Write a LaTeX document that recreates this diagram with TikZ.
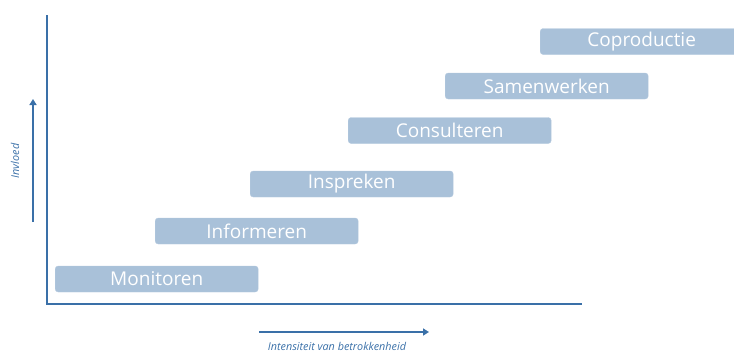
\documentclass[tikz,border=0pt]{standalone}
\usepackage{fontspec}
\setmainfont{Open Sans}
\usetikzlibrary{arrows.meta}
\definecolor{axisblue}{HTML}{3A70A8}
\definecolor{stepfill}{HTML}{A9C1D9}

\begin{document}
\begin{tikzpicture}[x=1pt,y=-1pt]
\tikzset{stage/.style={fill=stepfill,draw=stepfill!85!white,rounded corners=3pt,minimum width=203pt,minimum height=26pt,inner sep=0pt,text=white,font=\fontsize{19}{22}\selectfont,anchor=west},
axisline/.style={axisblue,line width=2pt},
axisarrow/.style={axisblue,line width=1.8pt,-{Triangle[length=6pt,width=7pt]}},
axislabel/.style={axisblue,font=\fontsize{10.8}{12}\selectfont\itshape,inner sep=0pt}}
\useasboundingbox (0,0) rectangle (734,354);
\clip (0,0) rectangle (734,354);
% axes
\coordinate (top) at (47,15);
\coordinate (origin) at (47,304);
\coordinate (right) at (582,304);
\draw [axisline] (top) -- (origin) -- (right);
% stages
\node [stage] (monitoren) at (55,279) {Monitoren};
\node [stage] (informeren) at (155,231) {Informeren};
\node [stage] (inspreken) at (250,184) {Inspreken};
\node [stage] (consulteren) at (348,130.5) {Consulteren};
\node [stage] (samenwerken) at (445,86) {Samenwerken};
\node [stage] (coproductie) at (540,41.5) {Coproductie};
% influence arrow
\coordinate (inflow) at (33,222);
\coordinate (infhigh) at (33,99);
\draw [axisarrow] (inflow) -- (infhigh);
\node [axislabel,rotate=90] (invloed) at (15,161) {Invloed};
% intensity arrow
\coordinate (intlow) at (259,332);
\coordinate (inthigh) at (429,332);
\draw [axisarrow] (intlow) -- (inthigh);
\node [axislabel] (intensiteit) at (337,346.5) {Intensiteit van betrokkenheid};
\end{tikzpicture}
\end{document}
